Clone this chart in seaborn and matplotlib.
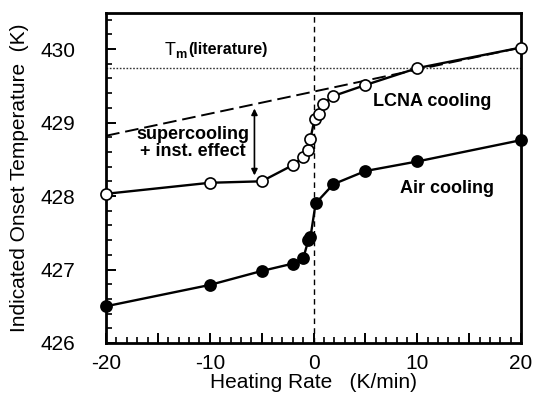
import numpy as np
import pandas as pd
import matplotlib
matplotlib.use("Agg")
import matplotlib.pyplot as plt
from matplotlib.ticker import MultipleLocator, FuncFormatter
import seaborn as sns

# Heating rates (K/min) and indicated onset temperatures (K)
lcna_rate = [-20, -10, -5, -2, -1, -0.5, -0.3, 0.1, 0.5, 0.9, 1.9, 5, 10, 20]
lcna_temp = [428.03, 428.18, 428.20, 428.42, 428.53, 428.63, 428.78,
             429.05, 429.12, 429.25, 429.36, 429.51, 429.74, 430.02]

air_rate = [-20, -10, -5, -2, -1, -0.5, -0.3, 0.2, 1.9, 5, 10, 20]
air_temp = [426.50, 426.79, 426.98, 427.08, 427.15, 427.40, 427.44,
            427.90, 428.16, 428.34, 428.47, 428.76]

# Equilibrium extrapolation line and literature melting point
extrap_rate = [-20, 20]
extrap_temp = [428.82, 430.02]
tm_literature = 429.74

x_ticks = [-20, -10, 0, 10, 20]
y_ticks = [426, 427, 428, 429, 430]

sns.set_theme(style="white")
plt.rcParams["font.family"] = ["Liberation Sans", "DejaVu Sans"]
plt.rcParams["mathtext.fontset"] = "custom"
plt.rcParams["mathtext.rm"] = "Liberation Sans:bold"
plt.rcParams["mathtext.it"] = "Liberation Sans:bold"
for key in ("text.color", "axes.labelcolor", "xtick.color", "ytick.color"):
    plt.rcParams[key] = "black"

fig = plt.figure(figsize=(5.36, 4.0), dpi=100)
ax = fig.add_axes([0.198, 0.1425, 0.774, 0.825])

# reference lines
ax.axvline(0, color="black", lw=1.0, ls=(0, (4, 3)), zorder=1)
ax.axhline(tm_literature, color="#333333", lw=1.0, ls=(0, (1.2, 1.2)), zorder=1)
sns.lineplot(x=extrap_rate, y=extrap_temp, ax=ax, color="black", lw=1.4,
             linestyle=(0, (7, 3)), estimator=None, zorder=2)

lcna = pd.DataFrame({"rate": lcna_rate, "temp": lcna_temp})
air = pd.DataFrame({"rate": air_rate, "temp": air_temp})

sns.lineplot(data=lcna, x="rate", y="temp", ax=ax, color="black", lw=1.7,
             marker="o", markersize=8, markerfacecolor="white",
             markeredgecolor="black", markeredgewidth=1.2,
             estimator=None, sort=False, zorder=4, clip_on=False)
sns.lineplot(data=air, x="rate", y="temp", ax=ax, color="black", lw=1.7,
             marker="o", markersize=8, markerfacecolor="black",
             markeredgecolor="black", markeredgewidth=1.2,
             estimator=None, sort=False, zorder=4, clip_on=False)

# annotations
ax.annotate("", xy=(-5.7, 429.19), xytext=(-5.7, 428.28),
            arrowprops=dict(arrowstyle="<|-|>", color="black", lw=1.2,
                            mutation_scale=9, shrinkA=0, shrinkB=0))
ax.text(-11.6, 428.72, "supercooling\n+ inst. effect", ha="center",
        va="center", fontsize=13, fontweight="bold", linespacing=1.05)
ax.text(-14.4, 429.98, r"T$_{\mathrm{m}}$", fontsize=13, ha="left",
        va="center")
ax.text(-12.1, 429.99, "(literature)", fontsize=11.5, fontweight="bold",
        ha="left", va="center")
ax.text(11.4, 429.29, "LCNA cooling", fontsize=13, fontweight="bold",
        ha="center", va="center")
ax.text(12.9, 428.1, "Air cooling", fontsize=13, fontweight="bold",
        ha="center", va="center")

ax.set_xlim(-20, 20)
ax.set_ylim(426, 430.49)
ax.xaxis.set_major_locator(MultipleLocator(5))
ax.xaxis.set_minor_locator(MultipleLocator(1))
ax.xaxis.set_major_formatter(
    FuncFormatter(lambda v, p: f"{int(v)}" if abs(v) % 10 == 0 else ""))
ax.set_yticks(y_ticks)
ax.yaxis.set_minor_locator(MultipleLocator(0.2))
ax.tick_params(axis="both", which="major", direction="in", length=7,
               width=1.4, labelsize=15, color="black", bottom=True, left=True)
ax.tick_params(axis="both", which="minor", direction="in", length=4,
               width=1.2, color="black", bottom=True, left=True)
ax.tick_params(axis="x", which="major", pad=8)
ax.tick_params(axis="y", which="major", pad=22)

for s in ax.spines.values():
    s.set_color("black")
    s.set_linewidth(2.0)

ax.set_xlabel("Heating Rate   (K/min)", fontsize=15, labelpad=0)
ax.set_ylabel("Indicated Onset Temperature  (K)", fontsize=15, labelpad=8)

fig.savefig("out.png", dpi=100)
